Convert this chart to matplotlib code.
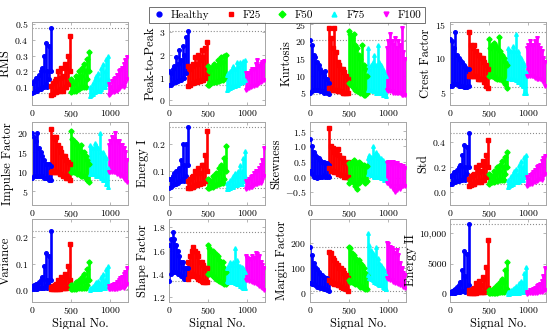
import numpy as np
import matplotlib
matplotlib.use("Agg")
import matplotlib.pyplot as plt
from matplotlib.lines import Line2D
from matplotlib.ticker import FuncFormatter

plt.rcParams['font.family'] = 'cmr10'
plt.rcParams['mathtext.fontset'] = 'cm'
plt.rcParams['axes.formatter.use_mathtext'] = True

# classes
classes = ["Healthy", "F25", "F50", "F75", "F100"]
colors = ["#0000ff", "#ff0000", "#00ff00", "#00ffff", "#ff00ff"]
markers = ["o", "s", "D", "^", "v"]
n_per_class = 245

# per feature: lower / upper envelope of the scatter, 12 read points per class
rms_hi = [[0.13, 0.14, 0.16, 0.16, 0.18, 0.20, 0.22, 0.30, 0.38, 0.20, 0.36, 0.47],
          [0.11, 0.13, 0.14, 0.15, 0.20, 0.16, 0.22, 0.17, 0.25, 0.22, 0.30, 0.42],
          [0.15, 0.14, 0.13, 0.17, 0.15, 0.20, 0.17, 0.22, 0.25, 0.20, 0.28, 0.32],
          [0.10, 0.10, 0.13, 0.15, 0.17, 0.19, 0.15, 0.22, 0.25, 0.20, 0.28, 0.30],
          [0.12, 0.10, 0.14, 0.15, 0.16, 0.18, 0.20, 0.21, 0.22, 0.25, 0.27, 0.29]]
rms_lo = [[0.065, 0.07, 0.08, 0.08, 0.09, 0.09, 0.10, 0.10, 0.12, 0.10, 0.15, 0.20],
          [0.055, 0.06, 0.07, 0.07, 0.08, 0.08, 0.09, 0.08, 0.10, 0.10, 0.12, 0.20],
          [0.07, 0.08, 0.08, 0.08, 0.09, 0.09, 0.10, 0.10, 0.10, 0.10, 0.15, 0.20],
          [0.045, 0.05, 0.06, 0.07, 0.08, 0.08, 0.08, 0.09, 0.10, 0.10, 0.12, 0.15],
          [0.055, 0.06, 0.07, 0.07, 0.08, 0.08, 0.09, 0.10, 0.11, 0.10, 0.13, 0.15]]

p2p_hi = [[1.3, 1.2, 1.4, 1.5, 1.9, 1.6, 2.2, 1.8, 2.4, 2.0, 2.8, 3.05],
          [1.5, 1.4, 1.5, 1.6, 1.9, 1.6, 2.0, 1.8, 2.2, 1.9, 2.3, 2.55],
          [1.5, 1.3, 1.4, 1.5, 1.6, 1.5, 1.8, 1.6, 1.9, 1.7, 1.95, 2.0],
          [1.1, 1.2, 1.3, 1.4, 1.5, 1.4, 1.7, 1.5, 1.7, 1.6, 1.75, 1.8],
          [1.2, 1.1, 1.2, 1.3, 1.4, 1.4, 1.6, 1.8, 1.5, 1.6, 1.7, 1.75]]
p2p_lo = [[0.7, 0.7, 0.75, 0.8, 0.8, 0.85, 0.9, 0.9, 1.0, 1.0, 1.2, 1.5],
          [0.65, 0.7, 0.75, 0.75, 0.8, 0.8, 0.85, 0.85, 0.9, 0.9, 1.0, 1.2],
          [0.7, 0.7, 0.75, 0.8, 0.8, 0.8, 0.85, 0.85, 0.9, 0.9, 1.0, 1.1],
          [0.45, 0.5, 0.55, 0.6, 0.65, 0.65, 0.7, 0.7, 0.75, 0.8, 0.8, 0.9],
          [0.45, 0.5, 0.55, 0.6, 0.65, 0.65, 0.7, 0.7, 0.75, 0.8, 0.85, 0.9]]

kurt_hi = [[20.5, 19, 16, 15.5, 14, 13, 12, 11, 10, 11.5, 9, 8],
           [24, 21, 18, 24, 17, 14, 13, 12, 12, 11, 10, 9],
           [23, 22, 21, 22, 19, 18, 16, 15, 19, 13, 12, 10],
           [18, 12, 13, 14, 16, 13, 19, 14, 13, 12, 11, 10],
           [18, 20, 22, 20, 19, 21, 18, 20, 19, 24, 17, 15]]
kurt_lo = [[5, 5.5, 6, 6, 6, 6, 5.5, 5.5, 5, 5.5, 5, 4.8],
           [6.5, 6.5, 6, 6, 6, 5.5, 5.5, 5.5, 5, 5, 5, 5],
           [8, 7.5, 7, 6.5, 6, 5.5, 5.5, 5, 5, 4.5, 4.5, 5],
           [6, 6, 6, 5.5, 5.5, 5, 5, 5, 5, 4.5, 4.5, 4],
           [6, 5.5, 5.5, 5.5, 5, 5, 5, 5, 5, 4.5, 4.5, 4.5]]

crest_hi = [[12.8, 12.5, 11.5, 13.9, 10.5, 10, 9.8, 9.5, 9, 8.7, 8.5, 8.5],
            [13.9, 12, 11.5, 12, 11, 10.5, 10.5, 10, 10, 9.5, 9, 8.5],
            [12.8, 11.5, 12, 12.2, 12, 11.5, 13.1, 11, 10.5, 10, 9.5, 9],
            [11.5, 11.2, 11, 11.8, 11, 13.5, 11, 10.5, 10, 9.5, 9, 8],
            [11.5, 12, 12.5, 12, 12, 12.5, 13, 12, 11.5, 11, 10, 9.5]]
crest_lo = [[6, 6, 6.2, 6.2, 6.2, 6, 6, 6, 5.8, 5.8, 5.8, 6],
            [7.5, 7.5, 7.5, 7.5, 7.5, 7, 7, 7, 7, 6.5, 6, 5.7],
            [7.5, 7.5, 7.5, 7.5, 7.2, 7, 7, 7, 6.8, 6.5, 6.2, 5.7],
            [7.2, 7.2, 7, 7, 7, 6.8, 6.5, 6.5, 6.2, 6, 5, 5],
            [7.5, 7.5, 7.5, 7.5, 7.5, 7.2, 7, 7, 7, 6.8, 6.5, 6]]

impulse_hi = [[20, 19, 18, 20, 16, 15, 14, 13, 12, 12, 12, 11.5],
              [21, 19, 18.5, 19, 17, 16, 15, 14, 14, 13, 12.5, 12],
              [20.5, 18.5, 18, 17.5, 17, 16.5, 17, 15, 15, 14, 13, 12],
              [17, 16.5, 16, 17.5, 17, 16, 20, 15, 15, 14, 13.5, 11],
              [17, 18, 19, 18.5, 20, 18, 18, 17, 17, 16, 15, 13]]
impulse_lo = [[8.5, 9, 9, 9, 9, 9, 9, 8.5, 8.5, 8.5, 8, 8],
              [10, 10, 10, 10, 10, 9.5, 9.5, 9, 9, 8.5, 8.5, 7.8],
              [10, 10, 10, 10, 9.5, 9.5, 9, 9, 9, 8.5, 8, 7.5],
              [9.5, 9.5, 9.5, 9.5, 9, 9, 9, 8.5, 8, 8, 7, 6.2],
              [10, 10, 10, 10, 10, 9.5, 9.5, 9, 9, 8.5, 8, 7.5]]

energy1_hi = [[0.07, 0.07, 0.08, 0.09, 0.10, 0.10, 0.11, 0.14, 0.20, 0.12, 0.20, 0.265],
              [0.06, 0.07, 0.075, 0.08, 0.10, 0.09, 0.11, 0.09, 0.12, 0.12, 0.16, 0.25],
              [0.07, 0.065, 0.06, 0.08, 0.08, 0.09, 0.09, 0.11, 0.12, 0.11, 0.15, 0.195],
              [0.055, 0.055, 0.065, 0.07, 0.08, 0.09, 0.08, 0.10, 0.12, 0.10, 0.15, 0.175],
              [0.06, 0.055, 0.07, 0.075, 0.08, 0.09, 0.10, 0.10, 0.11, 0.12, 0.14, 0.185]]
energy1_lo = [[0.035, 0.04, 0.045, 0.05, 0.05, 0.055, 0.06, 0.06, 0.07, 0.06, 0.08, 0.12],
              [0.035, 0.035, 0.04, 0.04, 0.045, 0.045, 0.05, 0.05, 0.055, 0.055, 0.06, 0.10],
              [0.035, 0.035, 0.04, 0.04, 0.045, 0.045, 0.05, 0.05, 0.055, 0.055, 0.07, 0.10],
              [0.03, 0.03, 0.035, 0.04, 0.04, 0.045, 0.045, 0.05, 0.05, 0.05, 0.06, 0.08],
              [0.03, 0.035, 0.035, 0.04, 0.04, 0.045, 0.05, 0.05, 0.055, 0.055, 0.065, 0.08]]

skew_hi = [[1.25, 1.0, 0.8, 0.7, 0.65, 0.6, 0.55, 0.5, 0.5, 0.45, 0.45, 0.4],
           [1.6, 1.0, 0.95, 0.8, 0.75, 0.9, 0.7, 0.6, 0.6, 0.5, 0.45, 0.5],
           [0.45, 0.4, 0.5, 0.55, 0.5, 0.45, 0.5, 0.45, 0.4, 0.4, 0.35, 0.35],
           [0.6, 0.7, 0.65, 1.0, 0.7, 0.8, 0.7, 0.6, 0.6, 0.55, 0.5, 0.5],
           [0.45, 0.5, 0.5, 0.4, 0.5, 0.45, 0.45, 0.4, 0.4, 0.35, 0.35, 0.3]]
skew_lo = [[0.2, 0.1, 0.0, 0.0, -0.05, 0.0, 0.0, 0.0, 0.05, 0.0, 0.0, 0.0],
           [0.3, 0.2, 0.2, 0.15, 0.15, 0.1, 0.1, 0.05, 0.05, 0.0, 0.0, 0.0],
           [-0.2, -0.1, -0.1, -0.2, -0.3, -0.4, -0.2, -0.15, -0.1, -0.1, -0.2, -0.15],
           [0.1, 0.1, 0.05, 0.05, 0.0, 0.0, 0.0, 0.0, -0.05, -0.05, -0.1, -0.1],
           [-0.2, -0.2, -0.3, -0.3, -0.4, -0.5, -0.45, -0.3, -0.4, -0.3, -0.3, -0.3]]

std_hi = [[0.13, 0.14, 0.16, 0.16, 0.18, 0.20, 0.22, 0.30, 0.38, 0.20, 0.36, 0.47],
          [0.11, 0.13, 0.14, 0.15, 0.20, 0.16, 0.22, 0.17, 0.25, 0.22, 0.30, 0.42],
          [0.15, 0.14, 0.13, 0.17, 0.15, 0.20, 0.17, 0.22, 0.25, 0.20, 0.28, 0.32],
          [0.10, 0.10, 0.13, 0.15, 0.17, 0.19, 0.15, 0.22, 0.25, 0.20, 0.28, 0.30],
          [0.12, 0.10, 0.14, 0.15, 0.16, 0.18, 0.20, 0.21, 0.22, 0.25, 0.27, 0.29]]
std_lo = [[0.065, 0.07, 0.08, 0.08, 0.09, 0.09, 0.10, 0.10, 0.12, 0.10, 0.15, 0.20],
          [0.055, 0.06, 0.07, 0.07, 0.08, 0.08, 0.09, 0.08, 0.10, 0.10, 0.12, 0.20],
          [0.07, 0.08, 0.08, 0.08, 0.09, 0.09, 0.10, 0.10, 0.10, 0.10, 0.15, 0.20],
          [0.045, 0.05, 0.06, 0.07, 0.08, 0.08, 0.08, 0.09, 0.10, 0.10, 0.12, 0.15],
          [0.055, 0.06, 0.07, 0.07, 0.08, 0.08, 0.09, 0.10, 0.11, 0.10, 0.13, 0.15]]

var_hi = [[0.015, 0.02, 0.025, 0.025, 0.03, 0.04, 0.05, 0.09, 0.14, 0.04, 0.13, 0.225],
          [0.012, 0.015, 0.018, 0.022, 0.04, 0.025, 0.05, 0.03, 0.06, 0.05, 0.09, 0.175],
          [0.02, 0.018, 0.017, 0.03, 0.025, 0.04, 0.03, 0.05, 0.06, 0.04, 0.08, 0.105],
          [0.01, 0.01, 0.017, 0.022, 0.03, 0.036, 0.022, 0.05, 0.06, 0.04, 0.08, 0.09],
          [0.014, 0.01, 0.02, 0.022, 0.025, 0.03, 0.04, 0.045, 0.048, 0.06, 0.07, 0.085]]
var_lo = [[0.004, 0.005, 0.006, 0.006, 0.008, 0.008, 0.01, 0.01, 0.015, 0.01, 0.02, 0.04],
          [0.003, 0.004, 0.005, 0.005, 0.006, 0.006, 0.008, 0.007, 0.01, 0.01, 0.015, 0.04],
          [0.005, 0.006, 0.006, 0.006, 0.008, 0.008, 0.01, 0.01, 0.01, 0.01, 0.02, 0.04],
          [0.002, 0.003, 0.004, 0.005, 0.006, 0.006, 0.006, 0.008, 0.01, 0.01, 0.015, 0.022],
          [0.003, 0.004, 0.005, 0.005, 0.006, 0.006, 0.008, 0.01, 0.012, 0.01, 0.017, 0.022]]

shape_hi = [[1.65, 1.70, 1.76, 1.70, 1.65, 1.60, 1.55, 1.50, 1.50, 1.45, 1.45, 1.45],
            [1.50, 1.55, 1.60, 1.63, 1.60, 1.58, 1.55, 1.50, 1.50, 1.48, 1.45, 1.45],
            [1.65, 1.62, 1.60, 1.60, 1.58, 1.57, 1.55, 1.52, 1.50, 1.50, 1.45, 1.42],
            [1.45, 1.47, 1.50, 1.48, 1.50, 1.62, 1.52, 1.48, 1.47, 1.46, 1.45, 1.42],
            [1.55, 1.54, 1.53, 1.53, 1.55, 1.54, 1.58, 1.57, 1.55, 1.50, 1.48, 1.45]]
shape_lo = [[1.34, 1.40, 1.42, 1.42, 1.42, 1.40, 1.40, 1.38, 1.37, 1.36, 1.36, 1.36],
            [1.36, 1.38, 1.40, 1.40, 1.38, 1.37, 1.36, 1.35, 1.34, 1.33, 1.33, 1.33],
            [1.40, 1.40, 1.40, 1.38, 1.37, 1.36, 1.35, 1.34, 1.33, 1.32, 1.31, 1.31],
            [1.34, 1.33, 1.33, 1.33, 1.33, 1.32, 1.31, 1.31, 1.30, 1.29, 1.28, 1.28],
            [1.35, 1.35, 1.34, 1.34, 1.33, 1.32, 1.32, 1.31, 1.30, 1.29, 1.28, 1.26]]

margin_hi = [[185, 150, 120, 105, 95, 85, 75, 70, 65, 60, 60, 45],
             [165, 160, 140, 130, 120, 110, 100, 100, 90, 80, 70, 60],
             [185, 180, 160, 150, 140, 130, 130, 120, 110, 100, 80, 70],
             [240, 190, 170, 160, 150, 185, 140, 120, 110, 100, 90, 70],
             [200, 195, 185, 180, 170, 160, 170, 150, 120, 100, 80, 70]]
margin_lo = [[40, 35, 35, 30, 25, 25, 20, 20, 15, 15, 10, 8],
             [50, 45, 40, 35, 35, 30, 30, 25, 20, 20, 15, 8],
             [50, 45, 45, 40, 35, 35, 30, 25, 25, 20, 15, 15],
             [70, 60, 55, 50, 45, 40, 35, 30, 30, 25, 20, 15],
             [60, 55, 50, 50, 45, 40, 40, 35, 30, 30, 25, 20]]

energy2_hi = [[400, 500, 600, 800, 1200, 1500, 2000, 4000, 7000, 3000, 6500, 11500],
              [600, 700, 800, 1000, 1800, 1200, 2200, 1500, 2800, 2500, 4500, 8900],
              [700, 600, 500, 1000, 1000, 1500, 1200, 2000, 2500, 2000, 4000, 5300],
              [300, 400, 600, 800, 1000, 1300, 1000, 1800, 2200, 1800, 3500, 4400],
              [400, 350, 600, 700, 800, 1000, 1300, 1500, 1700, 2200, 3000, 4200]]
energy2_lo = [[100, 150, 200, 250, 300, 350, 400, 450, 500, 400, 800, 1500],
              [100, 150, 200, 200, 250, 300, 300, 300, 400, 400, 500, 1000],
              [100, 150, 150, 200, 200, 250, 300, 300, 350, 350, 500, 900],
              [50, 80, 100, 150, 200, 200, 250, 250, 300, 300, 400, 500],
              [80, 100, 120, 150, 200, 200, 250, 300, 350, 350, 450, 600]]

# panel setup: (label, lo, hi, ylim, yticks)
panels = [
    ("RMS", rms_lo, rms_hi, (-0.01, 0.51), [0.1, 0.2, 0.3, 0.4, 0.5]),
    ("Peak-to-Peak", p2p_lo, p2p_hi, (-0.2, 3.45), [0, 1, 2, 3]),
    ("Kurtosis", kurt_lo, kurt_hi, (1.5, 25.6), [5, 10, 15, 20, 25]),
    ("Crest Factor", crest_lo, crest_hi, (3.2, 15.3), [5, 10, 15]),
    ("Impulse Factor", impulse_lo, impulse_hi, (1.5, 22.8), [5, 10, 15, 20]),
    ("Energy I", energy1_lo, energy1_hi, (-0.03, 0.285), [0, 0.1, 0.2]),
    ("Skewness", skew_lo, skew_hi, (-0.93, 1.8), [-0.5, 0, 0.5, 1, 1.5]),
    ("Std", std_lo, std_hi, (-0.1, 0.56), [0, 0.2, 0.4]),
    ("Variance", var_lo, var_hi, (-0.045, 0.27), [0, 0.1, 0.2]),
    ("Shape Factor", shape_lo, shape_hi, (1.16, 1.87), [1.2, 1.4, 1.6, 1.8]),
    ("Margin Factor", margin_lo, margin_hi, (-37, 295), [0, 100, 200]),
    ("Energy II", energy2_lo, energy2_hi, (-1300, 12300), [0, 5000, 10000]),
]

W, H = 550, 329
fig = plt.figure(figsize=(W / 100, H / 100), dpi=100)
col_left = [32, 169, 310, 450]
row_top = [22, 122, 219]
ax_w, ax_h = 96, 83

for k, (label, lo, hi, ylim, yticks) in enumerate(panels):
    r, c = divmod(k, 4)
    ax = fig.add_axes([col_left[c] / W, 1 - (row_top[r] + ax_h) / H, ax_w / W, ax_h / H])
    for j in range(5):
        start = j * n_per_class
        xs = np.linspace(start + 4, start + n_per_class - 6, len(hi[j]))
        ax.vlines(xs, lo[j], hi[j], color=colors[j], lw=1.9, zorder=2)
        ax.plot(xs, hi[j], markers[j], color=colors[j], ms=2.6, ls="none", zorder=3)
        ax.plot(xs, lo[j], markers[j], color=colors[j], ms=2.6, ls="none", zorder=3)
    # healthy band limits
    for v in (min(lo[0]), max(hi[0])):
        ax.axhline(v, color="0.55", ls=":", lw=0.8, zorder=1)
    ax.set_xlim(0, 1230)
    ax.set_ylim(*ylim)
    ax.set_xticks([0, 500, 1000])
    ax.set_yticks(yticks)
    if label == "Energy II":
        ax.yaxis.set_major_formatter(FuncFormatter(lambda v, p: f"{int(v):,}" if v >= 10000 else f"{int(v)}"))
    ax.tick_params(direction="in", top=True, right=True, length=2.5, width=0.5,
                   color="0.6", labelsize=7, pad=2.5)
    for s in ax.spines.values():
        s.set_color("0.65")
        s.set_linewidth(0.7)
    ax.set_ylabel(label, fontsize=9, labelpad=2)
    if r == 2:
        ax.set_xlabel("Signal No.", fontsize=9, labelpad=1)

handles = [Line2D([], [], marker=markers[j], color=colors[j], ls="none", ms=3.5, label=classes[j])
           for j in range(5)]
leg = fig.legend(handles=handles, loc="upper center", bbox_to_anchor=(287 / W, 1 - 1 / H),
                 ncol=5, fontsize=8, frameon=True, fancybox=False, edgecolor="0.3",
                 handletextpad=0.5, columnspacing=1.3, borderpad=0.3, handlelength=1.2)
leg.get_frame().set_linewidth(0.7)

fig.savefig("out.png", dpi=100)
